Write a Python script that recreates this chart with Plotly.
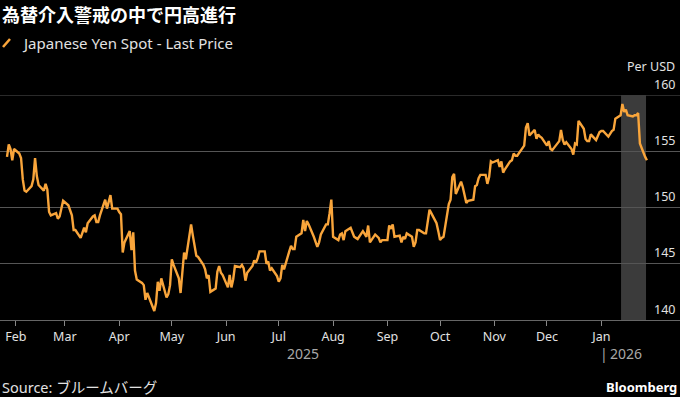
import pandas as pd
import plotly.graph_objects as go

# ---- data (USD/JPY, business days) ----
jan25 = [154.5, 155.6, 155.2, 154.2, 155.2]
feb25 = [154.8, 154.4, 152.5, 151.5, 151.4, 151.9, 152.5, 154.4, 152.8, 152.0,
         151.5, 152.1, 151.6, 149.6, 149.3, 149.5, 149.0, 149.2, 149.8, 150.6]
mar25 = [150.2, 149.8, 149.3, 148.0, 148.0, 147.3, 147.8, 148.2, 147.8, 148.6,
         149.2, 149.3, 148.7, 148.7, 149.3, 150.7, 149.9, 150.6, 151.1, 149.9, 149.9]
apr25 = [149.6, 149.4, 146.0, 146.9, 147.9, 146.2, 147.8, 144.4, 143.6, 143.3, 143.1,
         141.8, 142.4, 142.0, 140.8, 141.5, 143.4, 142.6, 143.7, 142.0, 142.3, 143.1]
may25 = [145.4, 144.9, 143.7, 142.4, 143.9, 146.0, 145.4, 148.5, 147.5, 146.7, 145.7,
         145.6, 144.9, 144.5, 143.7, 144.0, 142.5, 142.8, 144.3, 144.8, 144.2, 144.0]
jun25 = [142.9, 144.0, 142.9, 143.6, 144.8, 144.7, 144.9, 144.6, 143.5, 144.2, 144.8,
         145.3, 145.1, 145.5, 146.1, 146.1, 145.0, 145.2, 144.4, 144.6, 143.9]
jul25 = [143.4, 143.7, 144.9, 144.5, 146.1, 146.6, 146.3, 146.3, 147.4, 147.7, 148.9,
         147.9, 148.8, 148.5, 147.4, 146.9, 146.5, 146.9, 147.6, 148.5, 148.5, 149.5, 150.7]
aug25 = [147.4, 147.1, 147.6, 147.7, 147.1, 147.9, 148.2, 147.8, 147.4, 147.3, 147.2,
         147.9, 147.7, 147.4, 148.4, 146.9, 147.6, 147.4, 147.3, 146.9, 147.1]
sep25 = [147.1, 148.4, 148.1, 148.5, 147.4, 147.5, 146.9, 147.4, 147.2, 147.7, 147.4,
         146.5, 146.9, 148.0, 148.0, 147.7, 147.7, 148.9, 149.8, 149.5, 148.6, 147.9]
oct25 = [147.1, 147.3, 147.4, 150.3, 150.7, 152.7, 153.0, 151.2, 152.3, 151.8, 151.0,
         150.4, 150.6, 150.7, 151.9, 152.0, 152.6, 152.9, 152.9, 152.1, 152.7, 154.1, 154.0]
nov25 = [154.2, 153.6, 154.1, 153.1, 153.4, 154.1, 154.2, 154.8, 154.6, 154.6,
         155.2, 155.5, 157.1, 157.5, 156.4, 156.9, 156.1, 156.5, 156.3, 156.2]
dec25 = [155.5, 155.9, 155.2, 155.1, 155.3, 155.9, 156.9, 156.0, 155.6, 155.8, 155.2,
         154.7, 155.7, 155.6, 157.7, 157.0, 156.1, 155.9, 155.9, 156.5, 156.0, 156.4, 156.7]
jan26 = [156.8, 156.8, 156.3, 156.6, 156.8, 156.9, 157.9, 158.2, 159.2, 158.5,
         158.7, 158.2, 158.1, 158.2, 158.2, 158.4, 155.7, 154.5, 154.2]

month_blocks = [
    ("2025-01-27", "2025-01-31", jan25), ("2025-02-01", "2025-02-28", feb25),
    ("2025-03-01", "2025-03-31", mar25), ("2025-04-01", "2025-04-30", apr25),
    ("2025-05-01", "2025-05-31", may25), ("2025-06-01", "2025-06-30", jun25),
    ("2025-07-01", "2025-07-31", jul25), ("2025-08-01", "2025-08-31", aug25),
    ("2025-09-01", "2025-09-30", sep25), ("2025-10-01", "2025-10-31", oct25),
    ("2025-11-01", "2025-11-30", nov25), ("2025-12-01", "2025-12-31", dec25),
    ("2026-01-01", "2026-01-27", jan26),
]

dates, values = [], []
for start, end, vals in month_blocks:
    d = pd.bdate_range(start, end)
    n = min(len(d), len(vals))
    dates.extend(d[:n])
    values.extend(vals[:n])

x_tick_dates = ["2025-02-01", "2025-03-01", "2025-04-01", "2025-05-01", "2025-06-01",
                "2025-07-01", "2025-08-01", "2025-09-01", "2025-10-01", "2025-11-01",
                "2025-12-01", "2026-01-01"]
x_tick_labels = ["Feb", "Mar", "Apr", "May", "Jun", "Jul", "Aug", "Sep", "Oct", "Nov",
                 "Dec", "Jan"]
y_ticks = [140, 145, 150, 155, 160]
shade_start, shade_end = "2026-01-12 06:00", "2026-01-26 12:00"

title = "為替介入警戒の中で円高進行"
series_name = "Japanese Yen Spot - Last Price"
source = "Source: ブルームバーグ"

ORANGE = "#f9a53b"
GRID = "#555555"
TXT = "#e2e2e2"
FONT = "Noto Sans, Noto Sans CJK JP, sans-serif"

W, H = 680, 397
T, B = 95, 77
PH = H - T - B


def py(pix):
    return (H - B - pix) / PH


def px(pix):
    return pix / W


fig = go.Figure()
fig.add_trace(go.Scatter(x=dates, y=values, mode="lines", name=series_name,
                         line=dict(color=ORANGE, width=2.4), hoverinfo="skip"))

fig.add_shape(type="rect", xref="x", yref="y", x0=shade_start, x1=shade_end,
              y0=y_ticks[0], y1=y_ticks[-1], fillcolor="#3b3b3b", line_width=0,
              layer="below")
# top gridline (plotly drops the one on the range edge)
fig.add_shape(type="line", xref="paper", yref="y", x0=0, x1=1, y0=y_ticks[-1],
              y1=y_ticks[-1], line=dict(color=GRID, width=1), layer="below")

# legend glyph
fig.add_shape(type="line", xref="paper", yref="paper", x0=px(3), y0=py(47),
              x1=px(10), y1=py(39), line=dict(color=ORANGE, width=2.5))

ann = []
ann.append(dict(text="<b>" + title + "</b>", x=0, xref="paper", xanchor="left", y=py(14),
                yref="paper", yanchor="middle", showarrow=False,
                font=dict(family="Noto Sans CJK JP", size=18, color="#ffffff")))
ann.append(dict(text=series_name, x=px(20), xref="paper", xanchor="left", y=py(43),
                yref="paper", yanchor="middle", showarrow=False,
                font=dict(family=FONT, size=15, color=TXT)))
ann.append(dict(text="Per USD", x=1, xref="paper", xanchor="right", xshift=-3, y=py(66),
                yref="paper", yanchor="middle", showarrow=False,
                font=dict(family=FONT, size=12.5, color=TXT)))
for v in y_ticks:
    ann.append(dict(text=str(v), x=1, xref="paper", xanchor="right", xshift=-3, y=v,
                    yref="y", yanchor="middle", yshift=11, showarrow=False,
                    font=dict(family=FONT, size=12.5, color=TXT)))
ann.append(dict(text="2025", x="2025-07-15", xref="x", xanchor="center", y=py(353),
                yref="paper", yanchor="middle", showarrow=False,
                font=dict(family=FONT, size=14, color="#a8a8a8")))
ann.append(dict(text="|\u20092026", x="2026-01-01", xref="x", xanchor="left", xshift=-3,
                y=py(353), yref="paper", yanchor="middle", showarrow=False,
                font=dict(family=FONT, size=14, color="#a8a8a8")))
ann.append(dict(text=source, x=0, xref="paper", xanchor="left", y=py(387),
                yref="paper", yanchor="middle", showarrow=False,
                font=dict(family=FONT, size=14.5, color=TXT)))
ann.append(dict(text="<b>Bloomberg</b>", x=1, xref="paper", xanchor="right", xshift=-1,
                y=py(387), yref="paper", yanchor="middle", showarrow=False,
                font=dict(family=FONT, size=13, color="#ffffff")))

fig.update_layout(
    width=W, height=H, margin=dict(l=0, r=0, t=T, b=B),
    paper_bgcolor="#000000", plot_bgcolor="#000000", showlegend=False,
    font=dict(family=FONT, color=TXT),
    annotations=ann,
    xaxis=dict(type="date", range=["2025-01-23 00:00", "2026-02-14 21:00"],
               tickvals=x_tick_dates, ticktext=x_tick_labels,
               ticks="outside", ticklen=5, tickcolor="#888888", tickwidth=1,
               showgrid=False, showline=True, linecolor="#666666", linewidth=1,
               zeroline=False, tickfont=dict(family=FONT, size=12.5, color=TXT),
               fixedrange=True),
    yaxis=dict(range=[140, 160], side="right", tickvals=y_ticks, showticklabels=False,
               showgrid=True, gridcolor=GRID, gridwidth=1, zeroline=False,
               showline=False, ticks="", fixedrange=True),
)

fig.write_html("out.html")
